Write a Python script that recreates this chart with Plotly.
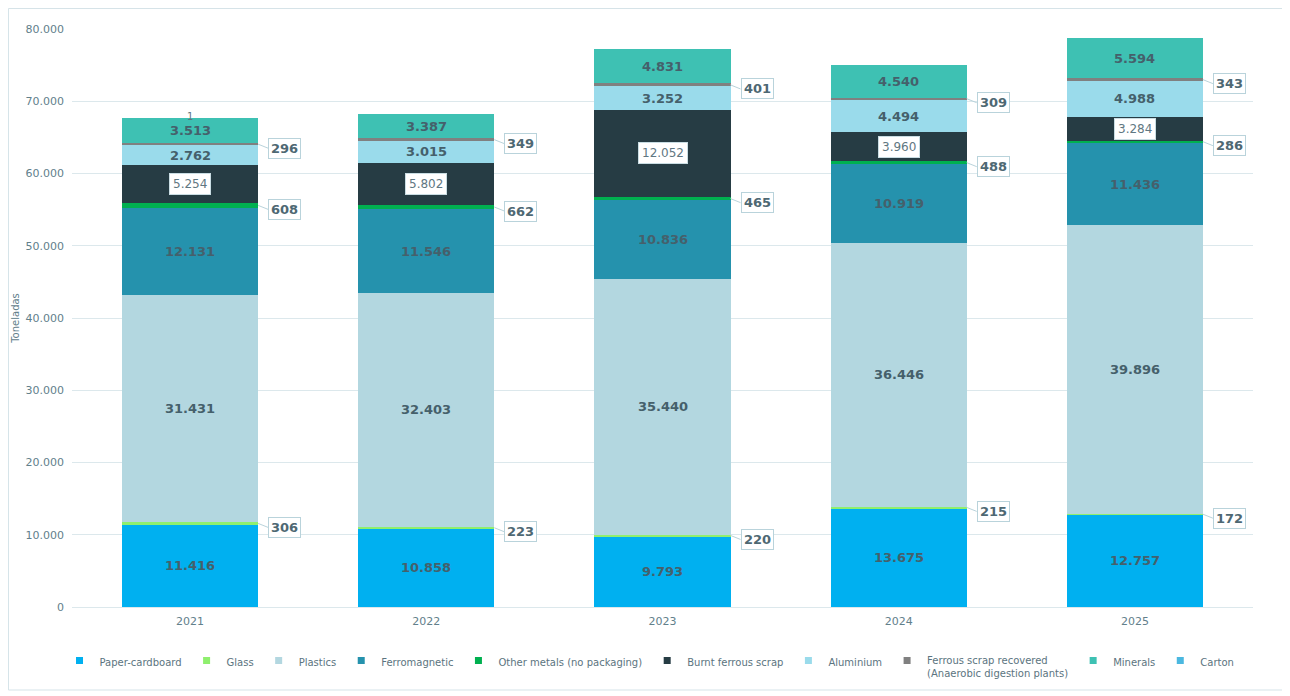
import plotly.graph_objects as go

years = ["2021", "2022", "2023", "2024", "2025"]

paper_cardboard = [11416, 10858, 9793, 13675, 12757]
glass = [306, 223, 220, 215, 172]
plastics = [31431, 32403, 35440, 36446, 39896]
ferromagnetic = [12131, 11546, 10836, 10919, 11436]
other_metals = [608, 662, 465, 488, 286]
burnt_ferrous = [5254, 5802, 12052, 3960, 3284]
aluminium = [2762, 3015, 3252, 4494, 4988]
ferrous_recovered = [296, 349, 401, 309, 343]
minerals = [3513, 3387, 4831, 4540, 5594]
carton = [1, 0, 0, 0, 0]

series = [
    ("Paper-cardboard", paper_cardboard, "#00B0F0", "inside"),
    ("Glass", glass, "#8FEF6E", "callout"),
    ("Plastics", plastics, "#B3D7E0", "inside"),
    ("Ferromagnetic", ferromagnetic, "#2592AD", "inside"),
    ("Other metals (no packaging)", other_metals, "#00B050", "callout"),
    ("Burnt ferrous scrap", burnt_ferrous, "#263C44", "box"),
    ("Aluminium", aluminium, "#9ADBEB", "inside"),
    ("Ferrous scrap recovered<br>(Anaerobic digestion plants)", ferrous_recovered, "#808080", "callout"),
    ("Minerals", minerals, "#3EC1B3", "inside"),
    ("Carton", carton, "#4BB8E0", "top"),
]

FONT = "DejaVu Sans"
LABEL_COLOR = "#45606B"
TICK_COLOR = "#62808B"
BAR_WIDTH = 0.576


def fmt(v):
    return f"{v:,}".replace(",", ".")


fig = go.Figure()
annotations = []
cum = [0] * len(years)

for name, vals, color, mode in series:
    fig.add_trace(go.Bar(
        x=years, y=vals, name=name, marker=dict(color=color, line=dict(width=0)),
        showlegend=False, hoverinfo="y+name",
    ))
    # legend proxy with small square markers
    fig.add_trace(go.Scatter(
        x=[None], y=[None], mode="markers", name=name,
        marker=dict(symbol="square", size=7, color=color),
        showlegend=True,
    ))
    for i, v in enumerate(vals):
        mid = cum[i] + v / 2
        if mode == "inside":
            annotations.append(dict(
                x=i, y=mid, xref="x", yref="y", text=f"<b>{fmt(v)}</b>",
                showarrow=False,
                font=dict(family=FONT, size=13, color=LABEL_COLOR),
            ))
        elif mode == "callout":
            annotations.append(dict(
                x=i + BAR_WIDTH / 2, y=mid, xref="x", yref="y",
                text=f"<b>{fmt(v)}</b>", showarrow=True, arrowhead=0,
                arrowwidth=1, arrowcolor="#B9D3DB", ax=10, ay=4,
                font=dict(family=FONT, size=13, color="#4E6873"),
                bgcolor="white", bordercolor="#B9D3DB", borderwidth=1,
                borderpad=2, xanchor="left",
            ))
        elif mode == "box":
            annotations.append(dict(
                x=i, y=mid, xref="x", yref="y", text=fmt(v), showarrow=False,
                font=dict(family=FONT, size=12, color="#5F7782"),
                bgcolor="white", bordercolor="#C9DDE3", borderwidth=1,
                borderpad=3,
            ))
        elif mode == "top" and v:
            annotations.append(dict(
                x=i, y=cum[i] + v, xref="x", yref="y", text=fmt(v),
                showarrow=False, yanchor="middle", yshift=1,
                font=dict(family=FONT, size=10, color="#5F7782"),
            ))
        cum[i] += v

fig.update_layout(
    width=1282, height=688,
    barmode="stack", bargap=0.424,
    separators=",.",
    paper_bgcolor="white", plot_bgcolor="white",
    margin=dict(l=64, r=37, t=21, b=89, autoexpand=False),
    font=dict(family=FONT, size=11, color=TICK_COLOR),
    xaxis=dict(type="category", showgrid=False, showline=True,
               linecolor="#DCE8EC", linewidth=1, ticks="",
               ticklabelstandoff=4,
               tickfont=dict(size=11, color=TICK_COLOR)),
    yaxis=dict(range=[0, 80000], dtick=10000, tickformat=",",
               showgrid=True, gridcolor="#DCE8EC", gridwidth=1,
               zeroline=False, ticks="", ticksuffix="  ",
               tickfont=dict(size=11, color=TICK_COLOR),
               title=dict(text="Toneladas", font=dict(size=10, color=TICK_COLOR),
                          standoff=4)),
    legend=dict(orientation="h", x=0.489, xanchor="center", y=-0.07, yanchor="top",
                font=dict(size=10, color="#5B7480"), itemwidth=30,
                traceorder="normal", tracegroupgap=0, valign="top"),
    annotations=annotations,
    shapes=[dict(type="rect", xref="paper", yref="paper",
                 x0=-0.0538, x1=1.0288, y0=-0.1436, y1=1.0355,
                 line=dict(color="#D5E3E8", width=1), layer="below")],
)

fig.write_html("out.html")
